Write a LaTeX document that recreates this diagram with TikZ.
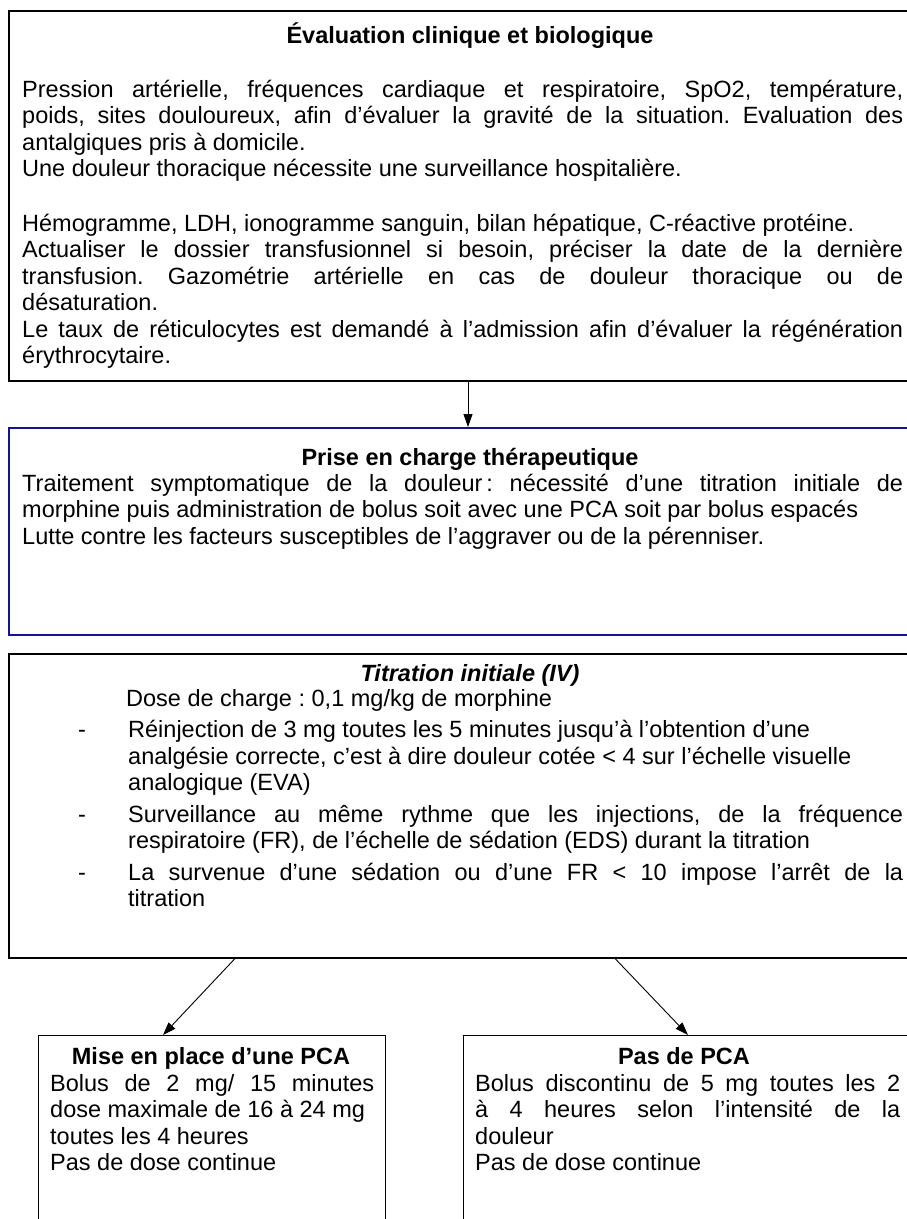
\documentclass[tikz,border=0pt]{standalone}
\usepackage{fontspec}
\setmainfont{Liberation Sans}
\usetikzlibrary{arrows.meta}
\definecolor{navy}{RGB}{20,20,140}
\frenchspacing
\begin{document}
\begin{tikzpicture}[x=1pt,y=-1pt,
  frame/.style={draw=black,line width=1.9pt,anchor=north west,inner sep=0pt},
  blueframe/.style={draw=navy,line width=2pt,anchor=north west,inner sep=0pt},
  midframe/.style={draw=black,line width=1.5pt,anchor=north west,inner sep=0pt},
  thinframe/.style={draw=black,line width=1.3pt,anchor=north west,inner sep=0pt},
  body/.style={anchor=base west,inner sep=0pt,align=justify,font=\fontsize{23.5}{26.5}\selectfont},
  heading/.style={anchor=base,inner sep=0pt,font=\fontsize{23.5}{26.5}\selectfont\bfseries},
  conn/.style={-{Triangle[length=13pt,width=9pt]},line width=0.9pt}
]
\useasboundingbox (0,0) rectangle (906,1219);
\fill[white] (0,0) rectangle (906,1219);

% boxes
\node[frame,minimum width=920pt,minimum height=370pt] (b1) at (8,10) {};
\node[blueframe,minimum width=920pt,minimum height=207pt] (b2) at (8,427) {};
\node[midframe,minimum width=920pt,minimum height=304pt] (b3) at (8,653) {};
\node[thinframe,minimum width=347pt,minimum height=260pt] (b4) at (38,1035) {};
\node[thinframe,minimum width=460pt,minimum height=260pt] (b5) at (463,1035) {};

% box 1
\node[heading] (t1) at (470,43) {Évaluation clinique et biologique};
\node[body,text width=881pt] (p1) at (22,97) {Pression artérielle, fréquences cardiaque et respiratoire, SpO2, température,\linebreak
poids, sites douloureux, afin d’évaluer la gravité de la situation. Evaluation des\linebreak
antalgiques pris à domicile.\\
Une douleur thoracique nécessite une surveillance hospitalière.};
\node[body,text width=881pt] (p2) at (22,231) {Hémogramme, LDH, ionogramme sanguin, bilan hépatique, C-réactive protéine.\\
Actualiser le dossier transfusionnel si besoin, préciser la date de la dernière\linebreak
transfusion. Gazométrie artérielle en cas de douleur thoracique ou de\linebreak
désaturation.\\
Le taux de réticulocytes est demandé à l’admission afin d’évaluer la régénération\linebreak
érythrocytaire.};

% box 2
\node[heading] (t2) at (470,465) {Prise en charge thérapeutique};
\node[body,text width=881pt] (p3) at (22,491) {Traitement symptomatique de la douleur\,: nécessité d’une titration initiale de\linebreak
morphine puis administration de bolus soit avec une PCA soit par bolus espacés\\
Lutte contre les facteurs susceptibles de l’aggraver ou de la pérenniser.};

% box 3
\node[heading,font=\fontsize{23.5}{26.5}\selectfont\bfseries\itshape] (t3) at (470,681) {Titration initiale (IV)};
\node[body] (d0) at (126,706) {Dose de charge : 0,1 mg/kg de morphine};
\node[body] (m1) at (78,737.5) {-};
\node[body,text width=775pt] (i1) at (128,737.5) {Réinjection de 3 mg toutes les 5 minutes jusqu’à l’obtention d’une\\
analgésie correcte, c’est à dire douleur cotée < 4 sur l’échelle visuelle\\
analogique (EVA)};
\node[body] (m2) at (78,822) {-};
\node[body,text width=775pt] (i2) at (128,822) {Surveillance au même rythme que les injections, de la fréquence\linebreak
respiratoire (FR), de l’échelle de sédation (EDS) durant la titration};
\node[body] (m3) at (78,880) {-};
\node[body,text width=775pt] (i3) at (128,880) {La survenue d’une sédation ou d’une FR < 10 impose l’arrêt de la\linebreak
titration};

% bottom boxes
\node[heading] (t4) at (211,1064) {Mise en place d’une PCA};
\node[body,text width=324pt] (p4) at (50,1091) {Bolus de 2 mg/ 15 minutes\linebreak
dose maximale de 16 à 24 mg\\
toutes les 4 heures\\
Pas de dose continue};
\node[heading] (t5) at (684,1064) {Pas de PCA};
\node[body,text width=425pt] (p5) at (475,1091) {Bolus discontinu de 5 mg toutes les 2\linebreak
à 4 heures selon l’intensité de la\linebreak
douleur\\
Pas de dose continue};

% connectors
\coordinate (c1) at (468,0);
\coordinate (c2) at (235,0);
\coordinate (c3) at (163,0);
\coordinate (c4) at (615,0);
\coordinate (c5) at (688,0);
\draw[conn] (b1.south -| c1) -- (b2.north -| c1);
\draw[conn] (b3.south -| c2) -- (b4.north -| c3);
\draw[conn] (b3.south -| c4) -- (b5.north -| c5);
\end{tikzpicture}
\end{document}
